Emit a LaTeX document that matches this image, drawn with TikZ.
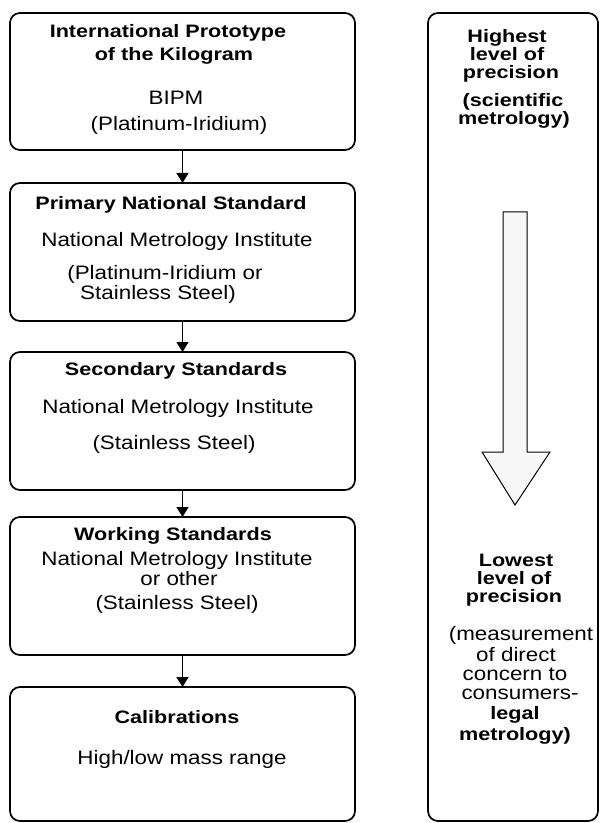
\documentclass[tikz,border=0pt]{standalone}
\usepackage{fontspec}
\setmainfont{Liberation Sans}
\newfontfamily\rgf[FakeStretch=1.15]{Liberation Sans}
\newfontfamily\bdf[FakeStretch=1.2]{Liberation Sans Bold}
\usetikzlibrary{arrows.meta}
\tikzset{
  box/.style={draw, line width=1.3pt, rounded corners=7.5pt, anchor=north west,
    minimum width=258.75pt, inner sep=0pt, outer sep=0pt},
  rl/.style={anchor=base, inner sep=0pt, font=\rgf\fontsize{14.6}{15}\selectfont},
  bl/.style={anchor=base, inner sep=0pt, font=\bdf\fontsize{13.5}{15}\selectfont},
  conn/.style={line width=1.1pt, -{Triangle[width=9pt,length=7.5pt]}},
  bigarrow/.style={draw, line width=0.75pt, fill=gray!6}
}
\begin{document}
\begin{tikzpicture}[x=0.75pt,y=-0.75pt]
\useasboundingbox (0,0) rectangle (600,823);
% left boxes
\node[box, minimum height=102.75pt] (b1) at (10,13) {};
\node[box, minimum height=103.5pt] (b2) at (10,183) {};
\node[box, minimum height=103.5pt] (b3) at (10,352) {};
\node[box, minimum height=103.5pt] (b4) at (10,517) {};
\node[box, minimum height=100.5pt] (b5) at (10,687) {};
% right box
\node[box, minimum width=127.5pt, minimum height=606pt] (rb) at (428,13) {};
% connectors
\draw[conn] (b1.south) -- (b2.north);
\draw[conn] (b2.south) -- (b3.north);
\draw[conn] (b3.south) -- (b4.north);
\draw[conn] (b4.south) -- (b5.north);
% big arrow
\path[bigarrow] (503,212) -- (527,212) -- (527,452) -- (550,452) -- (515,505) -- (482,452) -- (503,452) -- cycle;
% box 1 text
\node[bl] (t1a) at (168,38) {International Prototype};
\node[bl] (t1b) at (174,61) {of the Kilogram};
\node[rl] (t1c) at (176,105) {BIPM};
\node[rl] (t1d) at (179,131) {(Platinum-Iridium)};
% box 2 text
\node[bl] (t2a) at (171,210) {Primary National Standard};
\node[rl] (t2b) at (177,247) {National Metrology Institute};
\node[rl] (t2c) at (165,279) {(Platinum-Iridium or};
\node[rl] (t2d) at (158,299) {Stainless Steel)};
% box 3 text
\node[bl] (t3a) at (176,375) {Secondary Standards};
\node[rl] (t3b) at (178,413) {National Metrology Institute};
\node[rl] (t3c) at (174,449) {(Stainless Steel)};
% box 4 text
\node[bl] (t4a) at (173,540) {Working Standards};
\node[rl] (t4b) at (177,565) {National Metrology Institute};
\node[rl] (t4c) at (179,585) {or other};
\node[rl] (t4d) at (177,609) {(Stainless Steel)};
% box 5 text
\node[bl] (t5a) at (177,723) {Calibrations};
\node[rl] (t5b) at (182,764) {High/low mass range};
% right box text
\node[bl] (r1) at (507,43) {Highest};
\node[bl] (r2) at (507,61) {level of};
\node[bl] (r3) at (511,79) {precision};
\node[bl] (r4) at (513,107) {(scientific};
\node[bl] (r5) at (514,125) {metrology)};
\node[bl] (r6) at (516,566) {Lowest};
\node[bl] (r7) at (514,584) {level of};
\node[bl] (r8) at (514,602) {precision};
\node[rl] (r9) at (521,640) {(measurement};
\node[rl] (r10) at (516,661) {of direct};
\node[rl] (r11) at (515,680) {concern to};
\node[rl] (r12) at (520,699) {consumers-};
\node[bl] (r13) at (515,719) {legal};
\node[bl] (r14) at (515,740) {metrology)};
\end{tikzpicture}
\end{document}
